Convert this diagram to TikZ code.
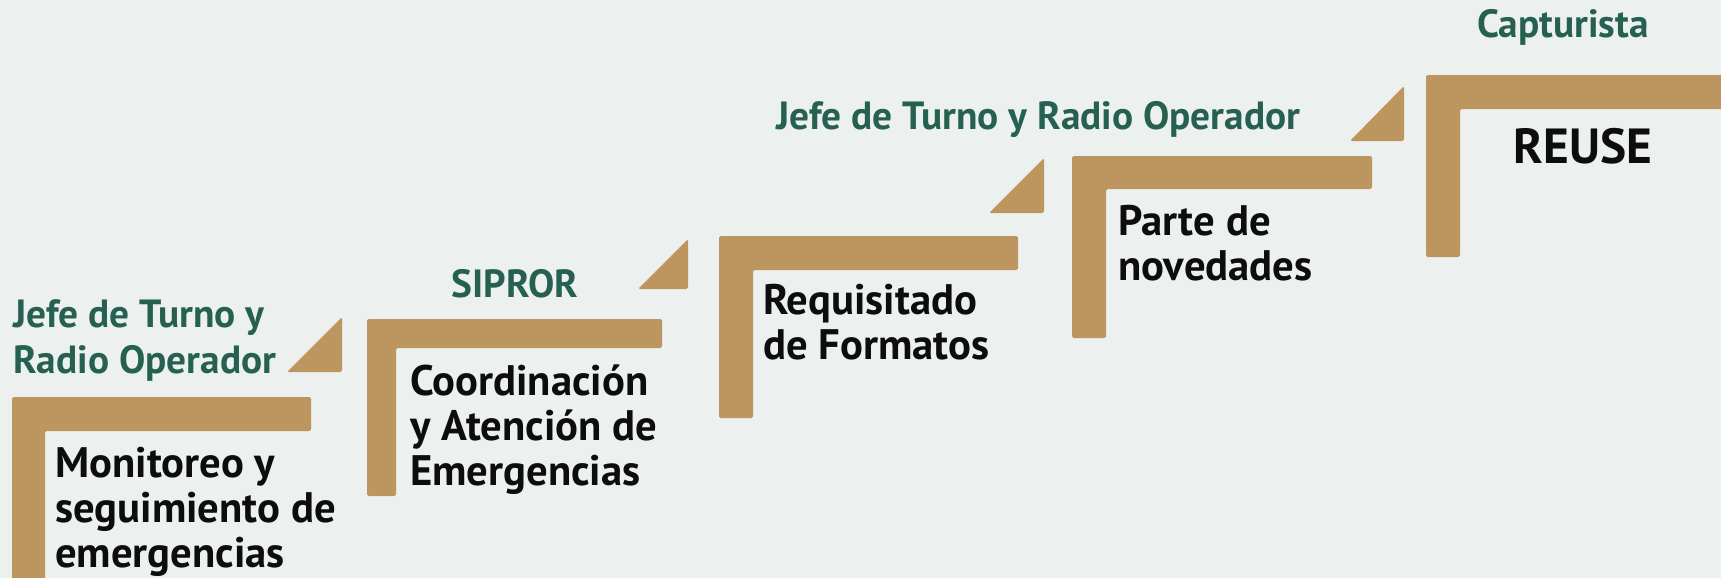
\documentclass[tikz,border=0pt]{standalone}
\usepackage{fontspec}
\setmainfont{PT Sans}
\definecolor{bgc}{HTML}{ECF0EE}
\definecolor{gold}{HTML}{BD955E}
\definecolor{grn}{HTML}{266050}
\definecolor{blk}{HTML}{0D0D0D}
\tikzset{
  stepbar/.style={fill=gold, draw=none, rounded corners=1.2pt},
  role/.style={text=grn, font=\bfseries\fontsize{29.5}{34.5}\selectfont, inner sep=0pt, align=left},
  task/.style={text=blk, font=\bfseries\fontsize{32}{33.5}\selectfont, inner sep=0pt, align=left},
}
\begin{document}
\begin{tikzpicture}[x=0.75pt, y=-0.75pt]
\fill[bgc] (0,0) rectangle (1721,578);
\useasboundingbox (0,0) rectangle (1721,578);
% step 1
\fill[stepbar] (12,397) -- (311,397) -- (311,431) -- (45,431) -- (45,590) -- (12,590) -- cycle;
\fill[stepbar] (287,372) -- (342,317) -- (342,372) -- cycle;
% step 2
\fill[stepbar] (367,319) -- (662,319) -- (662,348) -- (396,348) -- (396,496) -- (367,496) -- cycle;
\fill[stepbar] (638,289) -- (688,239) -- (688,289) -- cycle;
% step 3
\fill[stepbar] (719,236) -- (1018,236) -- (1018,270) -- (753,270) -- (753,418) -- (719,418) -- cycle;
\fill[stepbar] (989,213) -- (1044,158) -- (1044,213) -- cycle;
% step 4
\fill[stepbar] (1072,156) -- (1372,156) -- (1372,189) -- (1106,189) -- (1106,338) -- (1072,338) -- cycle;
\fill[stepbar] (1350,141) -- (1404,86) -- (1404,141) -- cycle;
% step 5
\fill[stepbar] (1426,75) -- (1730,75) -- (1730,109) -- (1460,109) -- (1460,257) -- (1426,257) -- cycle;
% texts (base anchor = baseline of the last line)
\node[role, anchor=base west] (r1) at (13,373) {Jefe de Turno y\\Radio Operador};
\node[task, anchor=base west] (t1) at (55,567) {Monitoreo y\\seguimiento de\\emergencias};
\node[role, anchor=base] (r2) at (515,297) {SIPROR};
\node[task, anchor=base west] (t2) at (410,485) {Coordinación\\y Atención de\\Emergencias};
\node[role, anchor=base west] (r3) at (776,129) {Jefe de Turno y Radio Operador};
\node[task, anchor=base west] (t3) at (763,359) {Requisitado\\de Formatos};
\node[task, anchor=base west] (t4) at (1118,280) {Parte de\\novedades};
\node[role, anchor=base] (r5) at (1563,37) {Capturista};
\node[task, anchor=base, font=\bfseries\fontsize{37}{40}\selectfont] (t5) at (1583,163) {REUSE};
\end{tikzpicture}
\end{document}
